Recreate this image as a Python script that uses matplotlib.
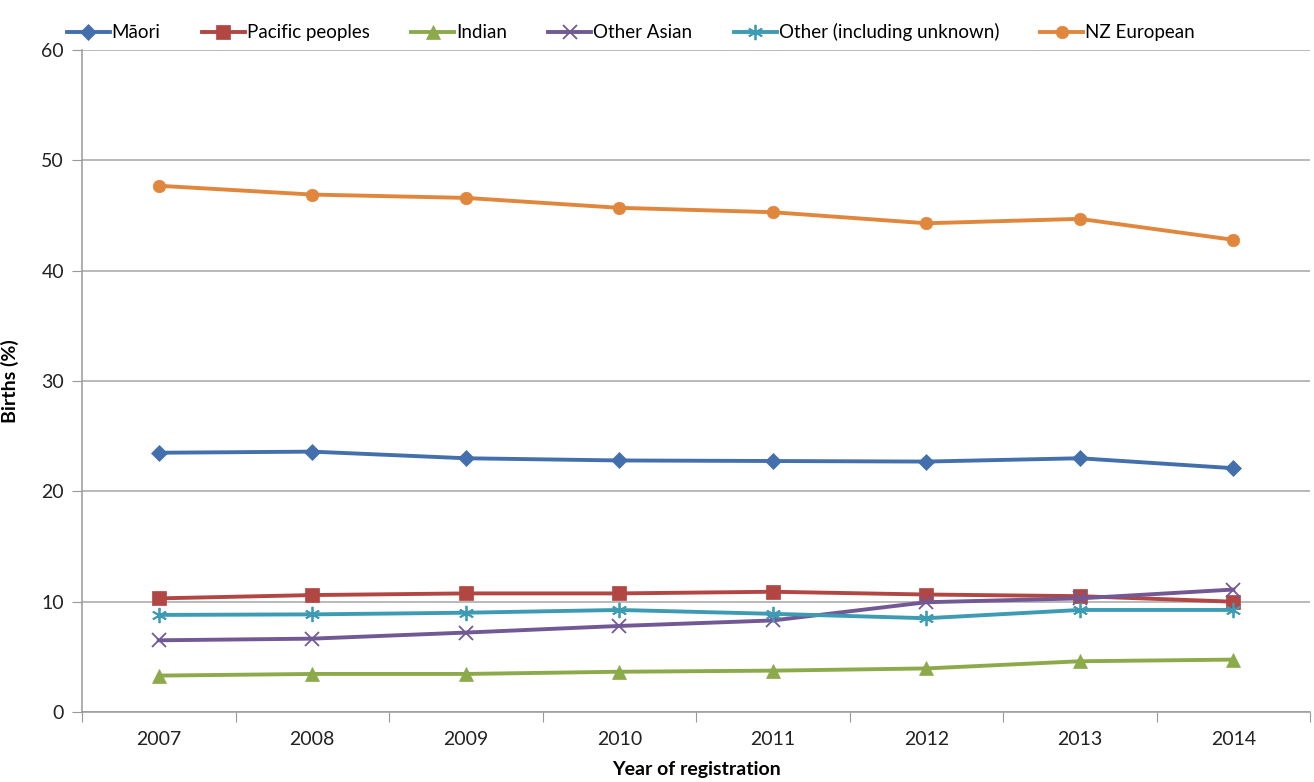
import matplotlib
matplotlib.use("Agg")
from matplotlib import pyplot as plt

years = ["2007", "2008", "2009", "2010", "2011", "2012", "2013", "2014"]

maori = [23.5, 23.6, 23.0, 22.8, 22.75, 22.7, 23.0, 22.1]
pacific = [10.3, 10.6, 10.75, 10.75, 10.9, 10.65, 10.5, 10.0]
indian = [3.3, 3.45, 3.45, 3.65, 3.75, 3.95, 4.6, 4.75]
other_asian = [6.5, 6.65, 7.2, 7.8, 8.3, 9.95, 10.3, 11.1]
other = [8.8, 8.85, 9.0, 9.25, 8.9, 8.5, 9.25, 9.25]
nz_european = [47.7, 46.9, 46.6, 45.7, 45.3, 44.3, 44.7, 42.8]

series = [
    ("Māori", maori, "#4370AC", "D", 8),
    ("Pacific peoples", pacific, "#B24643", "s", 10),
    ("Indian", indian, "#8DAA4B", "^", 10),
    ("Other Asian", other_asian, "#725895", "x", 10),
    ("Other (including unknown)", other, "#3E9BB4", (6, 2, 0), 11),
    ("NZ European", nz_european, "#E1873D", "o", 9),
]

plt.rcParams['font.family'] = ['Lato', 'DejaVu Sans']

fig = plt.figure(figsize=(13.14, 7.82), dpi=100)
ax = fig.add_axes([0.0624, 0.0895, 0.9346, 0.8465])

x = list(range(len(years)))
for name, vals, color, marker, ms in series:
    ax.plot(x, vals, color=color, lw=2.8, marker=marker, markersize=ms,
            markeredgewidth=1.3 if marker in ("x", (6, 2, 0)) else 0.5,
            markeredgecolor=color, label=name)

ax.set_xlim(-0.5, len(years) - 0.5)
ax.set_ylim(0, 60)
ax.set_yticks(range(0, 61, 10))
ax.set_xticks([i - 0.5 for i in range(len(years) + 1)], minor=False)
ax.set_xticklabels([])
ax.set_xticks(x, minor=True)
ax.set_xticklabels(years, minor=True)
ax.tick_params(axis='x', which='minor', length=0, pad=14, labelsize=14,
               colors="#222222")
ax.tick_params(axis='x', which='major', length=7, color="#999999")
ax.tick_params(axis='y', length=7, color="#999999", labelsize=14,
               labelcolor="#222222", pad=6)

ax.yaxis.grid(True, color="#A6A6A6", lw=1.1)
ax.set_axisbelow(True)
for side in ("top", "right"):
    ax.spines[side].set_visible(False)
for side in ("left", "bottom"):
    ax.spines[side].set_color("#999999")
    ax.spines[side].set_linewidth(1.1)

ax.set_ylabel("Births (%)", fontsize=14, fontweight="bold", labelpad=16)
ax.set_xlabel("Year of registration", fontsize=14, fontweight="bold",
              labelpad=9)

ax.legend(loc="lower left", bbox_to_anchor=(-0.017, 1.005), ncol=6,
          frameon=False, fontsize=13.5, handlelength=2.3, handletextpad=0.1,
          columnspacing=2.2, borderaxespad=0.2, borderpad=0.1)

fig.savefig("out.png", dpi=100)
